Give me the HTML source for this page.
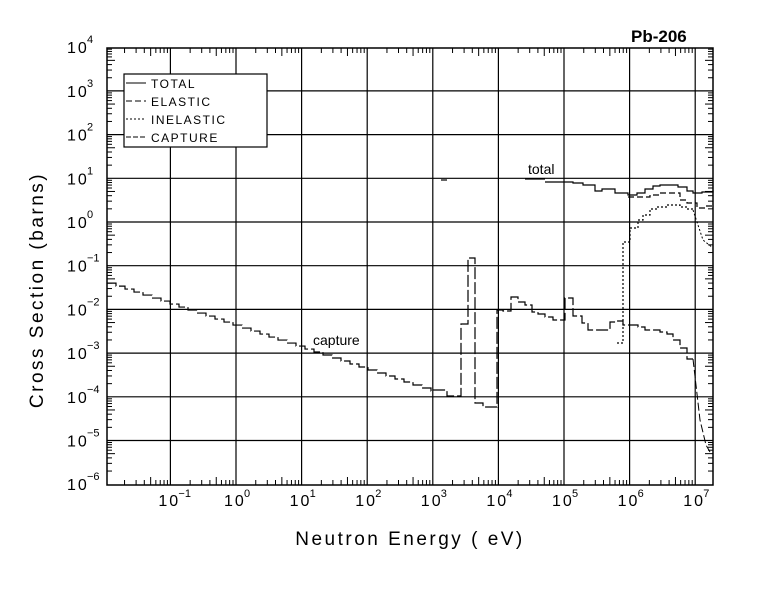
<!DOCTYPE html>
<html><head><meta charset="utf-8"><style>
body{margin:0;background:#fff}
svg text{font-family:"Liberation Sans",sans-serif;fill:#000}
</style></head><body>
<svg id="s" width="780" height="590" xmlns="http://www.w3.org/2000/svg">
<rect width="780" height="590" fill="#fff"/>
<g id="g"></g>
<rect x="124" y="74" width="143" height="73" fill="#fff" stroke="#000" stroke-width="1.2"/>
<line x1="126" y1="83" x2="146" y2="83" stroke="#000"/>
<line x1="126" y1="101" x2="146" y2="101" stroke="#000" stroke-dasharray="6,3"/>
<line x1="126" y1="119" x2="146" y2="119" stroke="#000" stroke-dasharray="2,2"/>
<line x1="126" y1="137" x2="146" y2="137" stroke="#000" stroke-dasharray="5,2"/>
<g font-size="12" letter-spacing="1.5" style="font-weight:300">
<text x="151" y="88">TOTAL</text><text x="151" y="106">ELASTIC</text>
<text x="151" y="124">INELASTIC</text><text x="151" y="142">CAPTURE</text></g>
<text x="631" y="42" font-size="17" font-weight="bold">Pb-206</text>
<text x="528" y="174" font-size="14">total</text>
<text x="313" y="345" font-size="14">capture</text>
<text x="410" y="545" font-size="19" text-anchor="middle" letter-spacing="2.5" style="font-weight:300">Neutron Energy ( eV)</text>
<text transform="translate(43,290) rotate(-90)" font-size="19" text-anchor="middle" letter-spacing="2.5" style="font-weight:300">Cross Section (barns)</text>
</svg>
<script>
const g=document.getElementById('g');const NS="http://www.w3.org/2000/svg";
function el(t,a,txt){const e=document.createElementNS(NS,t);for(const k in a)e.setAttribute(k,a[k]);if(txt)e.textContent=txt;g.appendChild(e);return e;}
const L=107,R=713,T=48,B=485;
const X=d=>236+65.6*d, Y=d=>222-43.7*d;
for(let d=-1;d<=7;d++){el('line',{x1:X(d),y1:T,x2:X(d),y2:B,stroke:'#000','stroke-width':1.2});}
for(let d=-5;d<=3;d++){el('line',{x1:L,y1:Y(d),x2:R,y2:Y(d),stroke:'#000','stroke-width':1.2});}
for(let d=-2;d<=7;d++)for(let m=2;m<=9;m++){const x=X(d+Math.log10(m));if(x>L&&x<R){const len=(m==5)?8:5;
el('line',{x1:x,y1:B,x2:x,y2:B-len,stroke:'#000'});el('line',{x1:x,y1:T,x2:x,y2:T+len,stroke:'#000'});}}
for(let d=-6;d<4;d++)for(let m=2;m<=9;m++){const y=Y(d+Math.log10(m));const len=(m==5)?8:5;
el('line',{x1:L,y1:y,x2:L+len,y2:y,stroke:'#000'});el('line',{x1:R,y1:y,x2:R-len,y2:y,stroke:'#000'});}
el('rect',{x:L,y:T,width:R-L,height:B-T,fill:'none',stroke:'#000','stroke-width':1.5});
for(let d=-1;d<=7;d++){el('text',{x:X(d)-12,y:506,'font-size':16,style:'font-weight:300','letter-spacing':2},'10');el('text',{x:X(d)+8,y:497,'font-size':11},String(d).replace('-','\u2212'));}
for(let d=-6;d<=4;d++){el('text',{x:67,y:Y(d)+6,'font-size':16,style:'font-weight:300','letter-spacing':2},'10');el('text',{x:87,y:Y(d)-4,'font-size':11},String(d).replace('-','\u2212'));}
function step(pts,dash,w){let s='M'+pts[0][0]+','+pts[0][1];for(let i=1;i<pts.length;i++){s+=' H'+pts[i][0]+' V'+pts[i][1];}
el('path',{d:s,fill:'none',stroke:'#000','stroke-width':w||1.2,'stroke-dasharray':dash||'none'});}
let cp=[];for(let x=107;x<433;x+=9){const d=-2+(x-107)/65.6;cp.push([x,Y(Math.log10(0.04)-0.5*(d+2))]);}
cp=cp.concat([[433,390],[447,396],[461,324],[468,258],[475,403],[483,407],[497,310],[503,311],[511,297],[518,302],[525,305],[532,312],[538,314],[545,317],[553,320],[565,298],[573,316],[582,323],[588,330],[595,330],[610,322],[617,321],[623,325],[638,327],[645,330],[660,332],[667,334],[673,340],[680,348],[687,359],[693,359]]);
step(cp,'12,3');
el('path',{d:'M693,359 L700,420 L706,445 L710,452',fill:'none',stroke:'#000','stroke-dasharray':'8,3'});
step([[441,180],[447,180]]);step([[525,179],[545,179]]);
step([[545,182],[563,182],[573,183],[583,185],[595,191],[602,189],[615,193],[628,195],[637,193],[645,189],[653,186],[660,185],[670,185],[678,187],[687,191],[693,193],[702,192],[713,190]]);
step([[628,197],[640,197],[650,195],[660,193],[673,193],[680,200],[687,203],[697,208],[705,206],[713,204]],'6,3');
step([[617,343],[623,242],[630,228],[638,220],[643,215],[650,209],[657,207],[667,205],[680,207],[687,209],[693,210]],'2,2');
el('path',{d:'M693,210 L697,222 L703,240 L713,248',fill:'none',stroke:'#000','stroke-dasharray':'2,2'});
</script>
</body></html>
